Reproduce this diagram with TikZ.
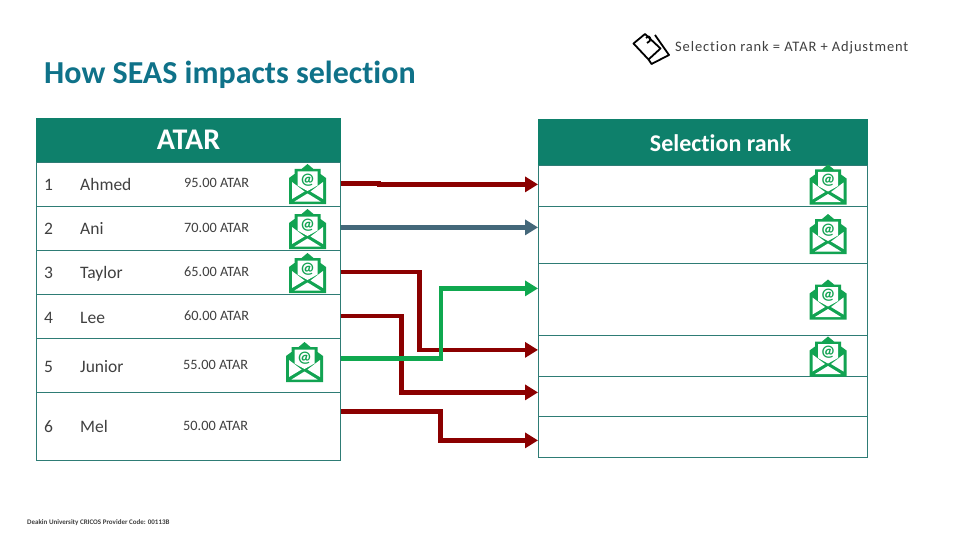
\documentclass[tikz,border=0pt]{standalone}
\usepackage{fontspec}
\setmainfont[Ligatures=NoCommon]{Carlito}
\usetikzlibrary{arrows.meta}
\definecolor{tealhead}{HTML}{0E806B}
\definecolor{tealline}{HTML}{2E7C75}
\definecolor{titlecol}{HTML}{0F7289}
\definecolor{txt}{HTML}{404040}
\definecolor{redarrow}{HTML}{8B0000}
\definecolor{bluearrow}{HTML}{44687A}
\definecolor{greenarrow}{HTML}{0FA84F}
\definecolor{envgreen}{HTML}{12A352}
\tikzset{
  x=1pt,y=-1pt,
  head/.style={draw=tealhead,fill=tealhead,text=white,inner sep=0pt,anchor=north west},
  rowbox/.style={draw=tealline,line width=0.8pt,inner sep=0pt,anchor=north west},
  cell/.style={text=txt,anchor=west,inner sep=0pt,text height=11pt,text depth=3pt,font=\fontsize{17.5}{19}\selectfont},
  score/.style={text=txt,anchor=west,inner sep=0pt,text height=9pt,text depth=2pt,font=\fontsize{14.3}{16}\selectfont},
  conn/.style={line width=4.6pt,-{Triangle[length=13pt,width=15pt]},line join=miter},
  envelope/.pic={
    \fill[envgreen] (-18.5,-6)--(-13,-10)--(-13,-15)--(-6,-15)--(0,-20)--(6,-15)--(13,-15)--(13,-10)--(18.5,-6)--(18.5,20)--(-18.5,20)--cycle;
    \fill[white] (-10,-12.5)--(10,-12.5)--(10,1.5)--(0,7)--(-10,1.5)--cycle;
    \fill[white] (-15.5,-2)--(-3,7.5)--(-15.5,15)--cycle;
    \fill[white] (15.5,-2)--(3,7.5)--(15.5,15)--cycle;
    \fill[white] (-13,17.5)--(0,9.5)--(13,17.5)--cycle;
    \node[text=envgreen,inner sep=0pt,font=\fontsize{16}{16}\selectfont\bfseries] at (0,-4) {@};
  }
}
\begin{document}
\begin{tikzpicture}
\useasboundingbox (0,0) rectangle (960,540);
\fill[white] (0,0) rectangle (960,540);
\node[anchor=west,inner sep=0pt,text=titlecol,font=\fontsize{32}{35}\selectfont\bfseries] (title) at (44,75) {How SEAS impacts selection};
\node[anchor=west,inner sep=0pt,text=txt,font=\fontsize{14.5}{16}\selectfont\addfontfeature{LetterSpace=6}] (formula) at (675,48) {Selection rank = ATAR + Adjustment};
% sticky notes icon
\begin{scope}[line width=1.8pt,line join=round,draw=black]
\draw (633.5,43.5)--(645,34)--(660.5,48.5)--(648.5,59.5)--cycle;
\draw (655,35)--(669,55)--(651.5,64)--(648.5,59.5);
\draw (646,38) .. controls (651,33) and (652,42) .. (647,43);
\end{scope}
% left table
\node[head,minimum width=304pt,minimum height=44pt] (lhead) at (36,118) {};
\node[text=white,inner sep=0pt,font=\fontsize{30}{32}\selectfont\bfseries] (ltitle) at (188.5,140) {ATAR};
\node[rowbox,minimum width=304pt,minimum height=44pt] (l1) at (36,162) {};
\node[rowbox,minimum width=304pt,minimum height=44pt] (l2) at (36,206) {};
\node[rowbox,minimum width=304pt,minimum height=44pt] (l3) at (36,250) {};
\node[rowbox,minimum width=304pt,minimum height=44pt] (l4) at (36,294) {};
\node[rowbox,minimum width=304pt,minimum height=54pt] (l5) at (36,338) {};
\node[rowbox,minimum width=304pt,minimum height=68pt] (l6) at (36,392) {};
\node[cell] (n1) at (44,186) {1};
\node[cell] (n2) at (44,230) {2};
\node[cell] (n3) at (44,274) {3};
\node[cell] (n4) at (44,319) {4};
\node[cell] (n5) at (44,368) {5};
\node[cell] (n6) at (44,428) {6};
\node[cell] (a1) at (80,186) {Ahmed};
\node[cell] (a2) at (80,230) {Ani};
\node[cell] (a3) at (80,274) {Taylor};
\node[cell] (a4) at (80,319) {Lee};
\node[cell] (a5) at (80,368) {Junior};
\node[cell] (a6) at (80,428) {Mel};
\node[score] (s1) at (184,184) {95.00 ATAR};
\node[score] (s2) at (184,229) {70.00 ATAR};
\node[score] (s3) at (184,273) {65.00 ATAR};
\node[score] (s4) at (184,317) {60.00 ATAR};
\node[score] (s5) at (183,366) {55.00 ATAR};
\node[score] (s6) at (183,427) {50.00 ATAR};
% right table
\node[head,minimum width=329pt,minimum height=46pt] (rhead) at (538,119) {};
\node[text=white,inner sep=0pt,font=\fontsize{24}{26}\selectfont\bfseries] (rtitle) at (720.5,143) {Selection rank};
\node[rowbox,minimum width=329pt,minimum height=41pt] (r1) at (538,165) {};
\node[rowbox,minimum width=329pt,minimum height=57pt] (r2) at (538,206) {};
\node[rowbox,minimum width=329pt,minimum height=72pt] (r3) at (538,263) {};
\node[rowbox,minimum width=329pt,minimum height=41pt] (r4) at (538,335) {};
\node[rowbox,minimum width=329pt,minimum height=40pt] (r5) at (538,376) {};
\node[rowbox,minimum width=329pt,minimum height=41pt] (r6) at (538,416) {};
% envelopes
\pic at (307.5,184) {envelope};
\pic at (307.5,229) {envelope};
\pic at (307.5,273) {envelope};
\pic at (304.5,362) {envelope};
\pic at (828,184.5) {envelope};
\pic at (828,234) {envelope};
\pic at (828,299.5) {envelope};
\pic at (828,356.5) {envelope};
% connectors
\draw[conn,redarrow] ([yshift=1pt]l1.east) -- ++(38,0) |- ([yshift=1.5pt]r1.west);
\draw[conn,bluearrow] ([yshift=1pt]l2.east) -- ([yshift=7.5pt]r2.west);
\draw[conn,redarrow] ([yshift=0.5pt]l3.east) -- ++(78.5,0) |- ([yshift=6pt]r4.west);
\draw[conn,redarrow] ([yshift=0.5pt]l4.east) -- ++(60.5,0) |- ([yshift=4pt]r5.west);
\draw[conn,greenarrow] ([yshift=7pt]l5.east) -- ++(100,0) |- ([yshift=11pt]r3.west);
\draw[conn,redarrow] ([yshift=15pt]l6.east) -- ++(99.5,0) |- ([yshift=-3.5pt]r6.west);
% footer
\node[anchor=west,inner sep=0pt,text=txt,font=\fontsize{7}{8}\selectfont\bfseries] (foot) at (27,523) {Deakin University CRICOS Provider Code: 00113B};
\end{tikzpicture}
\end{document}
